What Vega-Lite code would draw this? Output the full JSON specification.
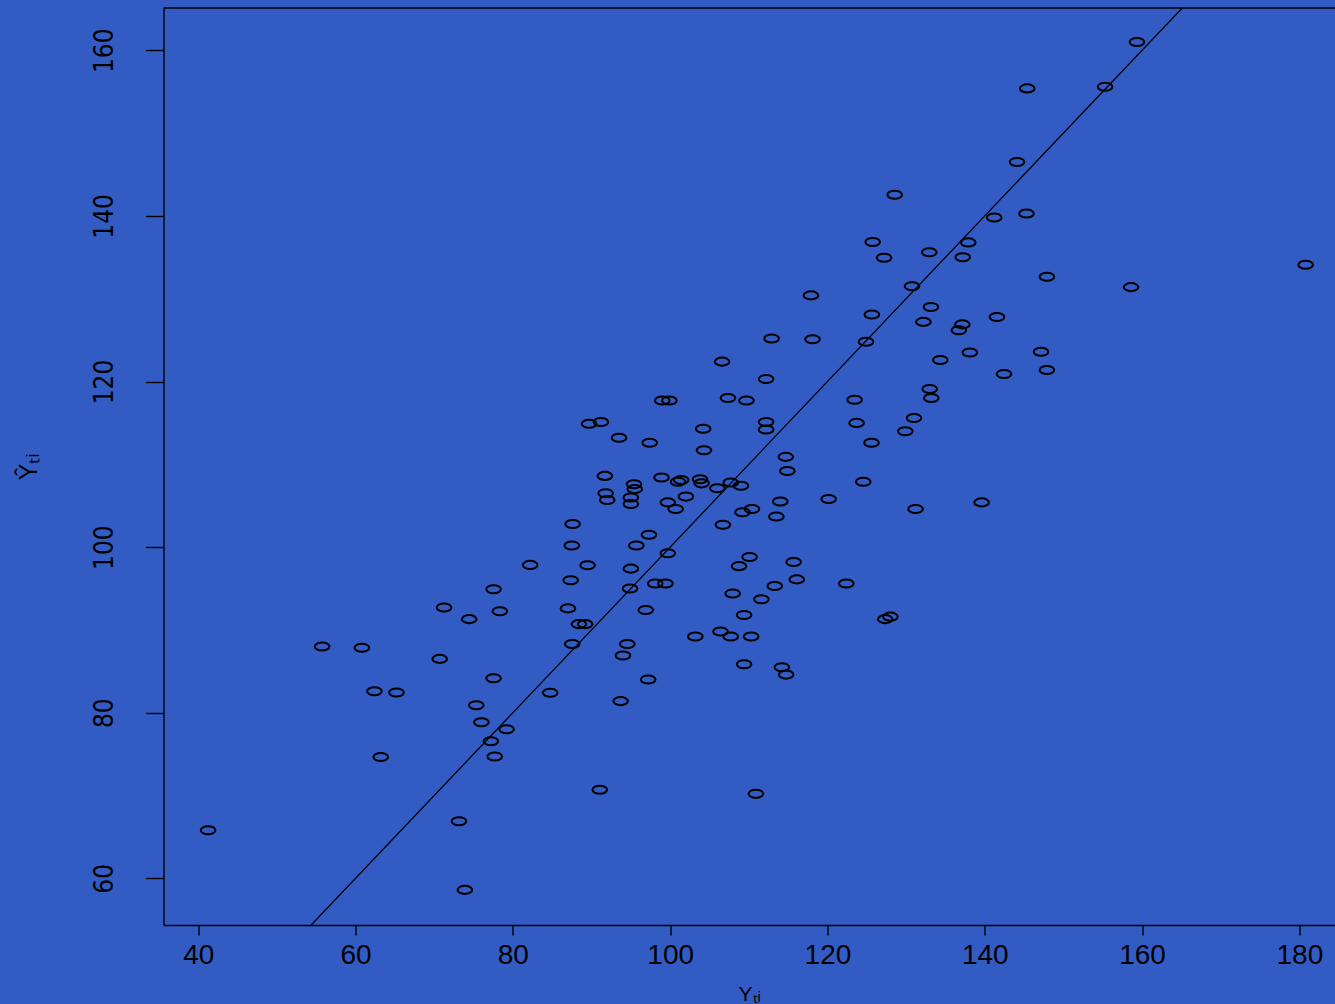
{
  "$schema": "https://vega.github.io/schema/vega-lite/v6.json",
  "autosize": "none",
  "padding": {"left": 163.5, "top": 8, "right": 0, "bottom": 79},
  "width": 1171.5,
  "height": 917,
  "background": "#325cc4",
  "config": {"view": {"stroke": null}, "axis": {"grid": false}},
  "layer": [
    {
      "data": {"values": [
        {"obs":159.35,"fit":161.0},{"obs":145.4,"fit":155.4},{"obs":155.3,"fit":155.6},{"obs":144.1,"fit":146.5},{"obs":128.55,"fit":142.55},
        {"obs":141.2,"fit":139.8},{"obs":145.3,"fit":140.3},{"obs":125.75,"fit":136.85},{"obs":137.9,"fit":136.8},{"obs":132.95,"fit":135.6},
        {"obs":127.2,"fit":134.95},{"obs":137.2,"fit":135.0},{"obs":147.9,"fit":132.65},{"obs":180.8,"fit":134.1},{"obs":158.6,"fit":131.4},
        {"obs":130.75,"fit":131.5},{"obs":117.9,"fit":130.4},{"obs":133.15,"fit":129.0},{"obs":125.65,"fit":128.1},{"obs":141.55,"fit":127.8},
        {"obs":132.2,"fit":127.2},{"obs":137.15,"fit":126.9},{"obs":136.7,"fit":126.2},{"obs":112.9,"fit":125.2},{"obs":118.1,"fit":125.1},
        {"obs":124.9,"fit":124.8},{"obs":147.15,"fit":123.6},{"obs":138.1,"fit":123.5},{"obs":134.35,"fit":122.6},{"obs":106.6,"fit":122.4},
        {"obs":142.45,"fit":120.9},{"obs":147.9,"fit":121.4},{"obs":112.2,"fit":120.3},{"obs":133.0,"fit":119.1},{"obs":133.2,"fit":118.0},
        {"obs":107.35,"fit":118.0},{"obs":109.7,"fit":117.7},{"obs":99.0,"fit":117.7},{"obs":99.9,"fit":117.7},{"obs":123.45,"fit":117.8},
        {"obs":131.0,"fit":115.6},{"obs":112.2,"fit":115.1},{"obs":112.2,"fit":114.2},{"obs":89.7,"fit":114.9},{"obs":91.2,"fit":115.1},
        {"obs":123.7,"fit":115.0},{"obs":104.2,"fit":114.3},{"obs":93.5,"fit":113.2},{"obs":97.4,"fit":112.6},{"obs":129.9,"fit":114.0},
        {"obs":125.6,"fit":112.6},{"obs":104.3,"fit":111.7},{"obs":114.7,"fit":110.9},{"obs":114.9,"fit":109.2},{"obs":91.7,"fit":108.6},
        {"obs":98.9,"fit":108.4},{"obs":95.4,"fit":107.6},{"obs":95.5,"fit":107.0},{"obs":91.8,"fit":106.5},{"obs":92.0,"fit":105.7},
        {"obs":95.0,"fit":106.0},{"obs":95.0,"fit":105.2},{"obs":101.0,"fit":107.9},{"obs":101.4,"fit":108.1},{"obs":103.8,"fit":108.2},
        {"obs":104.0,"fit":107.7},{"obs":106.0,"fit":107.1},{"obs":107.7,"fit":107.8},{"obs":109.0,"fit":107.4},{"obs":102.0,"fit":106.1},
        {"obs":99.7,"fit":105.4},{"obs":100.7,"fit":104.6},{"obs":114.0,"fit":105.5},{"obs":109.2,"fit":104.2},{"obs":110.4,"fit":104.6},
        {"obs":113.5,"fit":103.7},{"obs":87.6,"fit":102.8},{"obs":106.7,"fit":102.7},{"obs":97.3,"fit":101.5},{"obs":87.5,"fit":100.2},
        {"obs":95.7,"fit":100.2},{"obs":99.7,"fit":99.25},{"obs":89.5,"fit":97.8},{"obs":95.0,"fit":97.4},{"obs":110.1,"fit":98.8},
        {"obs":108.75,"fit":97.7},{"obs":115.7,"fit":98.2},{"obs":87.35,"fit":96.0},{"obs":116.1,"fit":96.1},{"obs":94.9,"fit":95.0},
        {"obs":98.1,"fit":95.6},{"obs":99.4,"fit":95.6},{"obs":87.0,"fit":92.6},{"obs":96.9,"fit":92.4},{"obs":88.4,"fit":90.7},
        {"obs":89.2,"fit":90.7},{"obs":87.55,"fit":88.3},{"obs":94.55,"fit":88.3},{"obs":94.0,"fit":86.9},{"obs":84.75,"fit":82.4},
        {"obs":97.2,"fit":84.0},{"obs":93.7,"fit":81.4},{"obs":107.95,"fit":94.4},{"obs":111.6,"fit":93.7},{"obs":113.3,"fit":95.3},
        {"obs":109.4,"fit":91.8},{"obs":103.2,"fit":89.2},{"obs":106.4,"fit":89.8},{"obs":107.7,"fit":89.2},{"obs":110.3,"fit":89.2},
        {"obs":109.4,"fit":85.85},{"obs":114.2,"fit":85.5},{"obs":114.75,"fit":84.6},{"obs":122.4,"fit":95.6},{"obs":127.35,"fit":91.3},
        {"obs":128.0,"fit":91.6},{"obs":120.15,"fit":105.8},{"obs":124.55,"fit":107.9},{"obs":131.2,"fit":104.6},{"obs":139.6,"fit":105.4},
        {"obs":77.55,"fit":94.9},{"obs":71.25,"fit":92.7},{"obs":74.45,"fit":91.3},{"obs":78.35,"fit":92.25},{"obs":55.75,"fit":88.0},
        {"obs":60.8,"fit":87.85},{"obs":70.7,"fit":86.5},{"obs":77.55,"fit":84.15},{"obs":62.4,"fit":82.6},{"obs":65.2,"fit":82.45},
        {"obs":75.35,"fit":80.9},{"obs":76.0,"fit":78.85},{"obs":79.2,"fit":78.0},{"obs":77.2,"fit":76.55},{"obs":77.7,"fit":74.7},
        {"obs":63.2,"fit":74.65},{"obs":73.15,"fit":66.9},{"obs":41.25,"fit":65.8},{"obs":73.9,"fit":58.6},{"obs":91.05,"fit":70.7},
        {"obs":110.9,"fit":70.2},{"obs":82.2,"fit":97.85}
      ]},
      "mark": {"type": "point", "shape": "M -1 0 A 1 0.55 0 1 1 1 0 A 1 0.55 0 1 1 -1 0 Z", "size": 215, "filled": false, "stroke": "black", "strokeWidth": 2, "opacity": 1},
      "encoding": {
        "x": {"field": "obs", "type": "quantitative", "title": "Yₜᵢ",
          "scale": {"domain": [35.58, 184.53], "nice": false, "zero": false},
          "axis": {"values": [40,60,80,100,120,140,160,180], "domainColor": "black", "domainWidth": 1.4, "tickColor": "black", "tickWidth": 1.4, "tickSize": 10,
            "labelFont": "Liberation Sans", "labelFontSize": 28, "labelColor": "black", "labelPadding": 6, "labelFlush": false, "labelOverlap": false,
            "titleFont": "Liberation Sans", "titleFontSize": 21, "titleFontWeight": "normal", "titleColor": "black", "titlePadding": 14}},
        "y": {"field": "fit", "type": "quantitative", "title": "Ŷₜᵢ",
          "scale": {"domain": [54.36, 165.11], "nice": false, "zero": false},
          "axis": {"values": [60,80,100,120,140,160], "domainColor": "black", "domainWidth": 1.4, "tickColor": "black", "tickWidth": 1.4, "tickSize": 18,
            "labelFont": "Liberation Sans Narrow, DejaVu Sans Condensed, Liberation Sans", "labelFontSize": 26, "labelColor": "black", "labelAngle": -90, "labelAlign": "center", "labelBaseline": "bottom", "labelPadding": 28, "labelFlush": false, "labelOverlap": false,
            "titleFont": "Liberation Sans", "titleFontSize": 25, "titleFontWeight": "normal", "titleColor": "black", "titlePadding": 50}}
      }
    },
    {
      "data": {"values": [{"obs": 54.36, "fit": 54.36}, {"obs": 165.11, "fit": 165.11}]},
      "mark": {"type": "line", "color": "black", "strokeWidth": 1.3, "clip": true},
      "encoding": {
        "x": {"field": "obs", "type": "quantitative", "title": "Yₜᵢ", "scale": {"domain": [35.58, 184.53], "nice": false, "zero": false}},
        "y": {"field": "fit", "type": "quantitative", "title": "Ŷₜᵢ", "scale": {"domain": [54.36, 165.11], "nice": false, "zero": false}}
      }
    },
    {
      "data": {"values": [{"fit": 165.11}]},
      "mark": {"type": "rule", "color": "black", "strokeWidth": 1.4},
      "encoding": {
        "y": {"field": "fit", "type": "quantitative", "title": "Ŷₜᵢ", "scale": {"domain": [54.36, 165.11], "nice": false, "zero": false}}
      }
    }
  ]
}
